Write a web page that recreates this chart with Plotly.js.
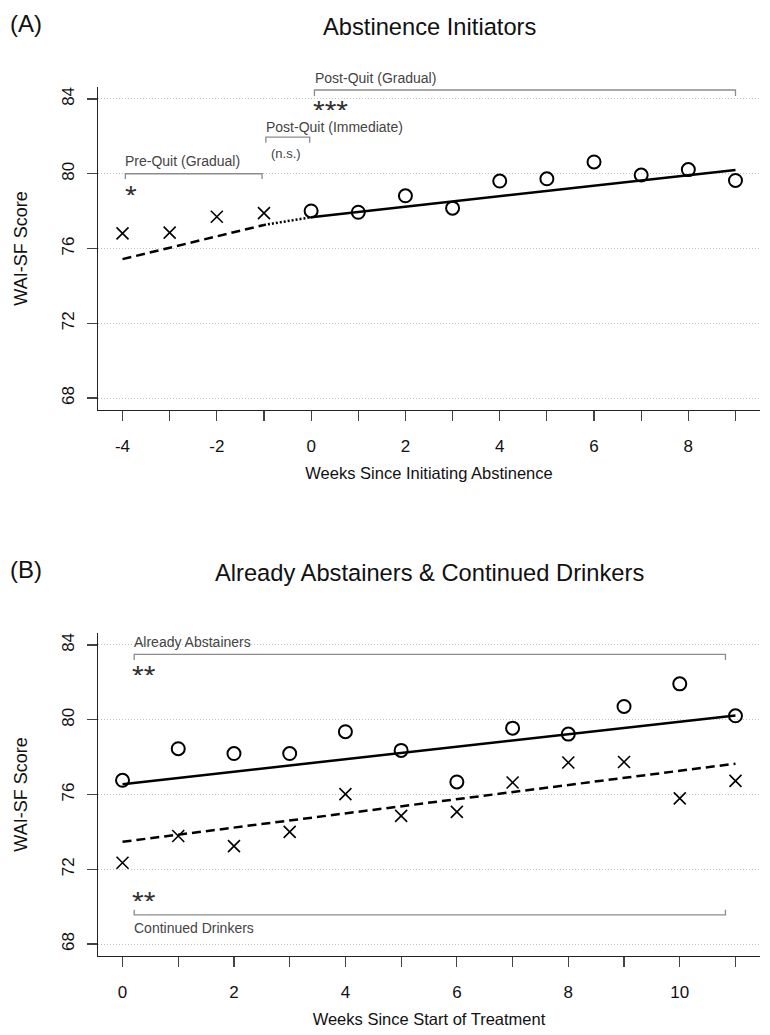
<!DOCTYPE html>
<html>
<head>
<meta charset="utf-8">
<script src="https://cdn.plot.ly/plotly-3.0.1.min.js"></script>
<style>html,body{margin:0;padding:0;background:#fff;}#chart{width:770px;height:1035px;}</style>
</head>
<body>
<div id="chart"></div>
<script>
// ---------- DATA ----------
// Panel A: Abstinence Initiators
const weeksPre = [-4, -3, -2, -1];
const scorePre = [76.81, 76.85, 77.70, 77.89];
const weeksPost = [0, 1, 2, 3, 4, 5, 6, 7, 8, 9];
const scorePost = [78.01, 77.94, 78.82, 78.16, 79.61, 79.73, 80.63, 79.93, 80.22, 79.64];
const fitPreX = [-4, -1];
const fitPreY = [75.43, 77.26];
const fitImmX = [-1, 0];
const fitImmY = [77.26, 77.67];
const fitPostX = [0, 9];
const fitPostY = [77.67, 80.20];

// Panel B: Already Abstainers & Continued Drinkers
const weeksB = [0, 1, 2, 3, 4, 5, 6, 7, 8, 9, 10, 11];
const scoreAbstainers = [76.76, 78.45, 78.19, 78.19, 79.36, 78.36, 76.67, 79.55, 79.23, 80.71, 81.92, 80.21];
const scoreDrinkers = [72.35, 73.78, 73.24, 74.00, 76.02, 74.86, 75.07, 76.64, 77.71, 77.74, 75.79, 76.73];
const fitAbstX = [0, 11];
const fitAbstY = [76.55, 80.23];
const fitDrinkX = [0, 11];
const fitDrinkY = [73.47, 77.65];

// Ticks
const yTickVals = [68, 72, 76, 80, 84];
const xTickValsA = [-4, -3, -2, -1, 0, 1, 2, 3, 4, 5, 6, 7, 8, 9];
const xTickTextA = ['-4', '', '-2', '', '0', '', '2', '', '4', '', '6', '', '8', ''];
const xTickValsB = [0, 1, 2, 3, 4, 5, 6, 7, 8, 9, 10, 11];
const xTickTextB = ['0', '', '2', '', '4', '', '6', '', '8', '', '10', ''];

// Texts
const titleA = 'Abstinence Initiators';
const titleB = 'Already Abstainers &amp; Continued Drinkers';
const xTitleA = 'Weeks Since Initiating Abstinence';
const xTitleB = 'Weeks Since Start of Treatment';
const yTitle = 'WAI-SF Score';

// ---------- STYLE ----------
const FONT = 'Liberation Sans, Arial, Helvetica, sans-serif';
const TXT = '#111';
const GRAY_TXT = '#444';
const BR = '#8c8c8c';
const H = 1035;

function marker(sym) {
  return sym === 'o'
    ? {symbol: 'circle-open', size: 13, color: '#000', line: {width: 2, color: '#000'}}
    : {symbol: 'x-thin-open', size: 12, color: '#000', line: {width: 1.6, color: '#000'}};
}

const traces = [
  {x: weeksPre, y: scorePre, mode: 'markers', marker: marker('x'), xaxis: 'x', yaxis: 'y', cliponaxis: false},
  {x: weeksPost, y: scorePost, mode: 'markers', marker: marker('o'), xaxis: 'x', yaxis: 'y', cliponaxis: false},
  {x: fitPreX, y: fitPreY, mode: 'lines', line: {color: '#000', width: 2.5, dash: '9px,5px'}, xaxis: 'x', yaxis: 'y'},
  {x: fitImmX, y: fitImmY, mode: 'lines', line: {color: '#000', width: 2.5, dash: '2px,2px'}, xaxis: 'x', yaxis: 'y'},
  {x: fitPostX, y: fitPostY, mode: 'lines', line: {color: '#000', width: 2.5}, xaxis: 'x', yaxis: 'y'},

  {x: weeksB, y: scoreAbstainers, mode: 'markers', marker: marker('o'), xaxis: 'x2', yaxis: 'y2', cliponaxis: false},
  {x: weeksB, y: scoreDrinkers, mode: 'markers', marker: marker('x'), xaxis: 'x2', yaxis: 'y2', cliponaxis: false},
  {x: fitAbstX, y: fitAbstY, mode: 'lines', line: {color: '#000', width: 2.5}, xaxis: 'x2', yaxis: 'y2'},
  {x: fitDrinkX, y: fitDrinkY, mode: 'lines', line: {color: '#000', width: 2.5, dash: '9px,5px'}, xaxis: 'x2', yaxis: 'y2'}
];

function xAxis(vals, text, title, anchor, range) {
  return {
    anchor: anchor, domain: [0, 1], range: range, tickmode: 'array', tickvals: vals, ticktext: text,
    showline: true, linecolor: '#222', linewidth: 1.3, mirror: false,
    ticks: 'outside', ticklen: 10, tickwidth: 1.2, tickcolor: '#444',
    showgrid: false, zeroline: false, ticklabelstandoff: 10,
    tickfont: {family: FONT, size: 17, color: TXT},
    title: {text: title, font: {family: FONT, size: 16.5, color: TXT}, standoff: 12},
    fixedrange: true
  };
}
function yAxis(anchor, domPx) {
  return {
    anchor: anchor, domain: [1 - domPx[1] / H, 1 - domPx[0] / H], range: [67.36, 84.64],
    tickmode: 'array', tickvals: yTickVals, tickangle: -90,
    showline: true, linecolor: '#222', linewidth: 1.3,
    ticks: 'outside', ticklen: 10, tickwidth: 1.2, tickcolor: '#444',
    showgrid: true, gridcolor: '#c2c2c2', gridwidth: 1, griddash: '1px,2px',
    zeroline: false, ticklabelstandoff: 6,
    tickfont: {family: FONT, size: 17, color: TXT},
    title: {text: yTitle, font: {family: FONT, size: 18, color: TXT}, standoff: 26},
    fixedrange: true
  };
}

// brackets: horizontal line with short legs
const shapes = [];
function bracket(xref, yref, x0, x1, y, legY) {
  shapes.push({type: 'path', xref: xref, yref: yref,
    path: `M ${x0} ${legY} L ${x0} ${y} L ${x1} ${y} L ${x1} ${legY}`,
    line: {color: BR, width: 1.3}});
}
bracket('x', 'y', -3.94, -1.04, 80.0, 79.72);
bracket('x', 'y', -0.96, -0.03, 81.96, 81.66);
bracket('x', 'y', 0.07, 9.0, 84.48, 84.16);
bracket('x2', 'y2', 0.21, 10.82, 83.50, 83.20);
bracket('x2', 'y2', 0.21, 10.82, 69.56, 69.83);

function label(xref, yref, x, y, text, size, color, anchor) {
  return {xref: xref, yref: yref, x: x, y: y, text: text, showarrow: false,
    xanchor: anchor || 'left', yanchor: 'middle',
    font: {family: FONT, size: size, color: color}};
}
// significance stars: compact box, glyph at the top of the text line
function stars(xref, yref, x, y, text) {
  return {xref: xref, yref: yref, x: x, y: y, text: text, showarrow: false,
    xanchor: 'left', yanchor: 'middle', height: 16, valign: 'top',
    font: {family: FONT, size: 30, color: '#333'}};
}
const annotations = [
  label('paper', 'paper', -0.136, 1 - 23 / H, '(A)', 24, TXT),
  label('paper', 'paper', 0.5, 1 - 27 / H, titleA, 23.7, TXT, 'center'),
  label('paper', 'paper', -0.136, 1 - 569 / H, '(B)', 24, TXT),
  label('paper', 'paper', 0.5, 1 - 573 / H, titleB, 23.7, TXT, 'center'),

  label('x', 'y', -3.98, 80.66, 'Pre-Quit (Gradual)', 14, GRAY_TXT),
  stars('x', 'y', -4.0, 79.30, '*'),
  label('x', 'y', -1.0, 82.52, 'Post-Quit (Immediate)', 14, GRAY_TXT),
  label('x', 'y', -0.53, 81.07, '(n.s.)', 13, GRAY_TXT, 'center'),
  label('x', 'paper', 0.03, 1 - 77.7 / H, 'Post-Quit (Gradual)', 14, GRAY_TXT),
  stars('x', 'y', 0.0, 83.83, '***'),

  label('x2', 'y2', 0.17, 84.18, 'Already Abstainers', 14, GRAY_TXT),
  stars('x2', 'y2', 0.14, 82.80, '**'),
  stars('x2', 'y2', 0.14, 70.74, '**'),
  label('x2', 'y2', 0.17, 68.85, 'Continued Drinkers', 14, GRAY_TXT)
];

const layout = {
  width: 770, height: 1035,
  margin: {l: 98, r: 10, t: 0, b: 0, pad: 0},
  paper_bgcolor: '#fff', plot_bgcolor: '#fff',
  showlegend: false,
  font: {family: FONT, color: TXT},
  xaxis: xAxis(xTickValsA, xTickTextA, xTitleA, 'y', [-4.52, 9.52]),
  yaxis: yAxis('x', [87, 410]),
  xaxis2: xAxis(xTickValsB, xTickTextB, xTitleB, 'y2', [-0.44, 11.44]),
  yaxis2: yAxis('x2', [633, 956]),
  shapes: shapes,
  annotations: annotations
};

Plotly.newPlot('chart', traces, layout, {staticPlot: true, displayModeBar: false});
</script>
</body>
</html>
